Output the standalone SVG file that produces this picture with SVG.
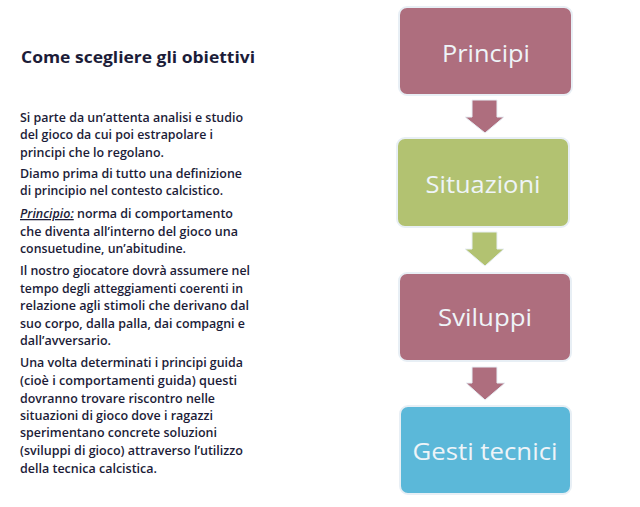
<svg xmlns="http://www.w3.org/2000/svg" width="640" height="507" viewBox="0 0 640 507">
<style>
.t{font-family:"Open Sans","Noto Sans",sans-serif;fill:#1c1c38;}
.title{font-size:16.5px;font-weight:700;}
.b{font-size:12.6px;font-weight:600;}
.box{stroke:#e8eff5;stroke-width:2;}
.lbl{font-family:"Open Sans","Noto Sans",sans-serif;font-size:24px;fill:#eef4f8;text-anchor:middle;}
.arr{stroke:#e8eff5;stroke-width:1;}
</style>
<rect width="640" height="507" fill="#ffffff"/>
<g id="text">
<text class="t title" x="21" y="63" textLength="234" lengthAdjust="spacingAndGlyphs">Come scegliere gli obiettivi</text>
<g class="t b">
<text x="20" y="122" textLength="223" lengthAdjust="spacingAndGlyphs">Si parte da un’attenta analisi e studio</text>
<text x="20" y="139" textLength="193" lengthAdjust="spacingAndGlyphs">del gioco da cui poi estrapolare i</text>
<text x="20" y="157" textLength="144" lengthAdjust="spacingAndGlyphs">principi che lo regolano.</text>
<text x="20" y="178" textLength="222" lengthAdjust="spacingAndGlyphs">Diamo prima di tutto una definizione</text>
<text x="20" y="195" textLength="203" lengthAdjust="spacingAndGlyphs">di principio nel contesto calcistico.</text>
<text x="20" y="218" textLength="213" lengthAdjust="spacingAndGlyphs"><tspan font-style="italic" text-decoration="underline">Principio:</tspan> norma di comportamento</text>
<text x="20" y="236" textLength="218" lengthAdjust="spacingAndGlyphs">che diventa all’interno del gioco una</text>
<text x="20" y="253" textLength="166" lengthAdjust="spacingAndGlyphs">consuetudine, un’abitudine.</text>
<text x="20" y="275" textLength="230" lengthAdjust="spacingAndGlyphs">Il nostro giocatore dovrà assumere nel</text>
<text x="20" y="293" textLength="223" lengthAdjust="spacingAndGlyphs">tempo degli atteggiamenti coerenti in</text>
<text x="20" y="310" textLength="229" lengthAdjust="spacingAndGlyphs">relazione agli stimoli che derivano dal</text>
<text x="20" y="328" textLength="225" lengthAdjust="spacingAndGlyphs">suo corpo, dalla palla, dai compagni e</text>
<text x="20" y="345" textLength="91" lengthAdjust="spacingAndGlyphs">dall’avversario.</text>
<text x="20" y="367" textLength="223" lengthAdjust="spacingAndGlyphs">Una volta determinati i principi guida</text>
<text x="20" y="385" textLength="217" lengthAdjust="spacingAndGlyphs">(cioè i comportamenti guida) questi</text>
<text x="20" y="403" textLength="195" lengthAdjust="spacingAndGlyphs">dovranno trovare riscontro nelle</text>
<text x="20" y="420" textLength="193" lengthAdjust="spacingAndGlyphs">situazioni di gioco dove i ragazzi</text>
<text x="20" y="437" textLength="197" lengthAdjust="spacingAndGlyphs">sperimentano concrete soluzioni</text>
<text x="20" y="455" textLength="223" lengthAdjust="spacingAndGlyphs">(sviluppi di gioco) attraverso l’utilizzo</text>
<text x="20" y="473" textLength="137" lengthAdjust="spacingAndGlyphs">della tecnica calcistica.</text>
</g>
</g>
<g id="connectors">
<polygon class="arr" fill="#ae6e7e" points="472,100 497,100 497,117 504,117 485,133 465,117 472,117"/>
<polygon class="arr" fill="#b2c271" points="472,232 497,232 497,249 504,249 485,266 465,249 472,249"/>
<polygon class="arr" fill="#ae6e7e" points="472,367 497,367 497,383 505,383 485,400 466,383 472,383"/>
</g>
<g id="principi">
<rect class="box" x="399" y="7" width="173" height="88" rx="8" fill="#ae6e7e"/>
<text class="lbl" x="486" y="62" textLength="88" lengthAdjust="spacingAndGlyphs">Principi</text>
</g>
<g id="situazioni">
<rect class="box" x="397" y="138" width="172" height="89" rx="8" fill="#b2c271"/>
<text class="lbl" x="483" y="193" textLength="115" lengthAdjust="spacingAndGlyphs">Situazioni</text>
</g>
<g id="sviluppi">
<rect class="box" x="399" y="273" width="172" height="88" rx="8" fill="#ae6e7e"/>
<text class="lbl" x="485" y="326" textLength="94" lengthAdjust="spacingAndGlyphs">Sviluppi</text>
</g>
<g id="gesti">
<rect class="box" x="400" y="406" width="171" height="88" rx="8" fill="#5bb8d9"/>
<text class="lbl" x="485" y="460" textLength="145" lengthAdjust="spacingAndGlyphs">Gesti tecnici</text>
</g>
</svg>
